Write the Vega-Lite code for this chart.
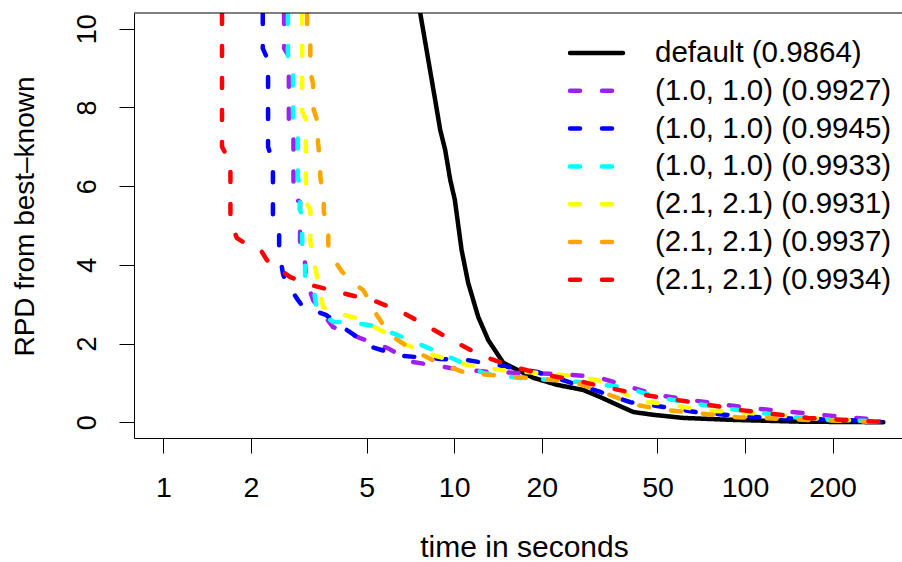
{
 "$schema": "https://vega.github.io/schema/vega-lite/v6.json",
 "width": 768, "height": 425,
 "autosize": {"type": "none"},
 "padding": {"left": 134, "top": 13, "right": 0, "bottom": 124},
 "background": "white",
 "config": {"view": {"stroke": null}, "font": "Liberation Sans"},
 "datasets": {
  "curves": [
   {"s":"default (0.9864)","i":0,"t":7.35,"r":11.5},{"s":"default (0.9864)","i":1,"t":7.64,"r":10.4},{"s":"default (0.9864)","i":2,"t":8.6,"r":8.19},{"s":"default (0.9864)","i":3,"t":8.95,"r":7.43},{"s":"default (0.9864)","i":4,"t":9.31,"r":6.92},{"s":"default (0.9864)","i":5,"t":9.69,"r":6.16},{"s":"default (0.9864)","i":6,"t":10.05,"r":5.65},{"s":"default (0.9864)","i":7,"t":10.6,"r":4.38},{"s":"default (0.9864)","i":8,"t":11.17,"r":3.54},{"s":"default (0.9864)","i":9,"t":12.09,"r":2.68},{"s":"default (0.9864)","i":10,"t":13.09,"r":2.09},{"s":"default (0.9864)","i":11,"t":14.75,"r":1.51},{"s":"default (0.9864)","i":12,"t":18.7,"r":1.13},{"s":"default (0.9864)","i":13,"t":22.6,"r":0.95},{"s":"default (0.9864)","i":14,"t":27.8,"r":0.82},{"s":"default (0.9864)","i":15,"t":31.8,"r":0.64},{"s":"default (0.9864)","i":16,"t":36.4,"r":0.44},{"s":"default (0.9864)","i":17,"t":41.3,"r":0.26},{"s":"default (0.9864)","i":18,"t":48.3,"r":0.19},{"s":"default (0.9864)","i":19,"t":61.3,"r":0.11},{"s":"default (0.9864)","i":20,"t":91.1,"r":0.06},{"s":"default (0.9864)","i":21,"t":155,"r":0.015},{"s":"default (0.9864)","i":22,"t":299,"r":0.0},

   {"s":"(1.0, 1.0) (0.9927)","i":0,"t":2.6,"r":12},{"s":"(1.0, 1.0) (0.9927)","i":1,"t":2.6,"r":9.5},{"s":"(1.0, 1.0) (0.9927)","i":2,"t":2.7,"r":9.3},{"s":"(1.0, 1.0) (0.9927)","i":3,"t":2.7,"r":7.5},{"s":"(1.0, 1.0) (0.9927)","i":4,"t":2.8,"r":7.3},{"s":"(1.0, 1.0) (0.9927)","i":5,"t":2.8,"r":5.7},{"s":"(1.0, 1.0) (0.9927)","i":6,"t":2.95,"r":5.6},{"s":"(1.0, 1.0) (0.9927)","i":7,"t":2.95,"r":4.46},{"s":"(1.0, 1.0) (0.9927)","i":8,"t":3.05,"r":4.3},{"s":"(1.0, 1.0) (0.9927)","i":9,"t":3.1,"r":3.6},{"s":"(1.0, 1.0) (0.9927)","i":10,"t":3.27,"r":3.11},{"s":"(1.0, 1.0) (0.9927)","i":11,"t":3.46,"r":2.85},{"s":"(1.0, 1.0) (0.9927)","i":12,"t":3.83,"r":2.42},{"s":"(1.0, 1.0) (0.9927)","i":13,"t":4.75,"r":2.14},{"s":"(1.0, 1.0) (0.9927)","i":14,"t":5.88,"r":1.89},{"s":"(1.0, 1.0) (0.9927)","i":15,"t":7.22,"r":1.53},{"s":"(1.0, 1.0) (0.9927)","i":16,"t":9.69,"r":1.38},{"s":"(1.0, 1.0) (0.9927)","i":17,"t":13.0,"r":1.28},{"s":"(1.0, 1.0) (0.9927)","i":18,"t":17.3,"r":1.25},{"s":"(1.0, 1.0) (0.9927)","i":19,"t":22.6,"r":1.23},{"s":"(1.0, 1.0) (0.9927)","i":20,"t":31.0,"r":1.15},{"s":"(1.0, 1.0) (0.9927)","i":21,"t":39.3,"r":0.92},{"s":"(1.0, 1.0) (0.9927)","i":22,"t":49.9,"r":0.69},{"s":"(1.0, 1.0) (0.9927)","i":23,"t":85.5,"r":0.44},{"s":"(1.0, 1.0) (0.9927)","i":24,"t":113,"r":0.34},{"s":"(1.0, 1.0) (0.9927)","i":25,"t":155,"r":0.24},{"s":"(1.0, 1.0) (0.9927)","i":26,"t":201,"r":0.16},{"s":"(1.0, 1.0) (0.9927)","i":27,"t":270,"r":0.08},{"s":"(1.0, 1.0) (0.9927)","i":28,"t":304,"r":0.03},

   {"s":"(1.0, 1.0) (0.9945)","i":0,"t":2.196,"r":12},{"s":"(1.0, 1.0) (0.9945)","i":1,"t":2.196,"r":9.5},{"s":"(1.0, 1.0) (0.9945)","i":2,"t":2.29,"r":9.2},{"s":"(1.0, 1.0) (0.9945)","i":3,"t":2.29,"r":7.0},{"s":"(1.0, 1.0) (0.9945)","i":4,"t":2.38,"r":6.6},{"s":"(1.0, 1.0) (0.9945)","i":5,"t":2.38,"r":5.27},{"s":"(1.0, 1.0) (0.9945)","i":6,"t":2.5,"r":4.8},{"s":"(1.0, 1.0) (0.9945)","i":7,"t":2.5,"r":4.33},{"s":"(1.0, 1.0) (0.9945)","i":8,"t":2.58,"r":3.76},{"s":"(1.0, 1.0) (0.9945)","i":9,"t":2.64,"r":3.56},{"s":"(1.0, 1.0) (0.9945)","i":10,"t":2.9,"r":3.11},{"s":"(1.0, 1.0) (0.9945)","i":11,"t":3.02,"r":2.93},{"s":"(1.0, 1.0) (0.9945)","i":12,"t":3.62,"r":2.73},{"s":"(1.0, 1.0) (0.9945)","i":13,"t":4.32,"r":2.32},{"s":"(1.0, 1.0) (0.9945)","i":14,"t":5.22,"r":1.91},{"s":"(1.0, 1.0) (0.9945)","i":15,"t":6.52,"r":1.69},{"s":"(1.0, 1.0) (0.9945)","i":16,"t":8.93,"r":1.61},{"s":"(1.0, 1.0) (0.9945)","i":17,"t":11.1,"r":1.58},{"s":"(1.0, 1.0) (0.9945)","i":18,"t":19.3,"r":1.28},{"s":"(1.0, 1.0) (0.9945)","i":19,"t":31.8,"r":0.77},{"s":"(1.0, 1.0) (0.9945)","i":20,"t":40.3,"r":0.51},{"s":"(1.0, 1.0) (0.9945)","i":21,"t":52.4,"r":0.39},{"s":"(1.0, 1.0) (0.9945)","i":22,"t":70.2,"r":0.24},{"s":"(1.0, 1.0) (0.9945)","i":23,"t":119,"r":0.11},{"s":"(1.0, 1.0) (0.9945)","i":24,"t":218,"r":0.06},{"s":"(1.0, 1.0) (0.9945)","i":25,"t":292,"r":0.01},

   {"s":"(1.0, 1.0) (0.9933)","i":0,"t":2.68,"r":12},{"s":"(1.0, 1.0) (0.9933)","i":1,"t":2.68,"r":9.0},{"s":"(1.0, 1.0) (0.9933)","i":2,"t":2.79,"r":8.9},{"s":"(1.0, 1.0) (0.9933)","i":3,"t":2.79,"r":7.6},{"s":"(1.0, 1.0) (0.9933)","i":4,"t":2.9,"r":7.3},{"s":"(1.0, 1.0) (0.9933)","i":5,"t":2.9,"r":6.2},{"s":"(1.0, 1.0) (0.9933)","i":6,"t":2.95,"r":6.0},{"s":"(1.0, 1.0) (0.9933)","i":7,"t":2.95,"r":5.4},{"s":"(1.0, 1.0) (0.9933)","i":8,"t":3.0,"r":5.2},{"s":"(1.0, 1.0) (0.9933)","i":9,"t":3.0,"r":4.5},{"s":"(1.0, 1.0) (0.9933)","i":10,"t":3.07,"r":4.2},{"s":"(1.0, 1.0) (0.9933)","i":11,"t":3.07,"r":3.62},{"s":"(1.0, 1.0) (0.9933)","i":12,"t":3.3,"r":3.3},{"s":"(1.0, 1.0) (0.9933)","i":13,"t":3.37,"r":2.86},{"s":"(1.0, 1.0) (0.9933)","i":14,"t":3.83,"r":2.55},{"s":"(1.0, 1.0) (0.9933)","i":15,"t":4.28,"r":2.55},{"s":"(1.0, 1.0) (0.9933)","i":16,"t":5.27,"r":2.45},{"s":"(1.0, 1.0) (0.9933)","i":17,"t":6.62,"r":2.17},{"s":"(1.0, 1.0) (0.9933)","i":18,"t":8.14,"r":1.89},{"s":"(1.0, 1.0) (0.9933)","i":19,"t":10.3,"r":1.56},{"s":"(1.0, 1.0) (0.9933)","i":20,"t":12.6,"r":1.25},{"s":"(1.0, 1.0) (0.9933)","i":21,"t":16.5,"r":1.13},{"s":"(1.0, 1.0) (0.9933)","i":22,"t":21.1,"r":1.08},{"s":"(1.0, 1.0) (0.9933)","i":23,"t":29.4,"r":1.0},{"s":"(1.0, 1.0) (0.9933)","i":24,"t":39.3,"r":0.87},{"s":"(1.0, 1.0) (0.9933)","i":25,"t":49.9,"r":0.64},{"s":"(1.0, 1.0) (0.9933)","i":26,"t":64.9,"r":0.49},{"s":"(1.0, 1.0) (0.9933)","i":27,"t":84.3,"r":0.36},{"s":"(1.0, 1.0) (0.9933)","i":28,"t":113,"r":0.24},{"s":"(1.0, 1.0) (0.9933)","i":29,"t":146,"r":0.13},{"s":"(1.0, 1.0) (0.9933)","i":30,"t":192,"r":0.06},{"s":"(1.0, 1.0) (0.9933)","i":31,"t":264,"r":0.03},{"s":"(1.0, 1.0) (0.9933)","i":32,"t":304,"r":0.01},

   {"s":"(2.1, 2.1) (0.9931)","i":0,"t":3.0,"r":12},{"s":"(2.1, 2.1) (0.9931)","i":1,"t":3.0,"r":7.9},{"s":"(2.1, 2.1) (0.9931)","i":2,"t":3.09,"r":7.7},{"s":"(2.1, 2.1) (0.9931)","i":3,"t":3.09,"r":5.6},{"s":"(2.1, 2.1) (0.9931)","i":4,"t":3.2,"r":5.4},{"s":"(2.1, 2.1) (0.9931)","i":5,"t":3.2,"r":4.6},{"s":"(2.1, 2.1) (0.9931)","i":6,"t":3.25,"r":4.33},{"s":"(2.1, 2.1) (0.9931)","i":7,"t":3.38,"r":3.67},{"s":"(2.1, 2.1) (0.9931)","i":8,"t":3.54,"r":2.93},{"s":"(2.1, 2.1) (0.9931)","i":9,"t":3.8,"r":2.8},{"s":"(2.1, 2.1) (0.9931)","i":10,"t":4.6,"r":2.65},{"s":"(2.1, 2.1) (0.9931)","i":11,"t":5.65,"r":2.32},{"s":"(2.1, 2.1) (0.9931)","i":12,"t":6.84,"r":1.97},{"s":"(2.1, 2.1) (0.9931)","i":13,"t":8.6,"r":1.69},{"s":"(2.1, 2.1) (0.9931)","i":14,"t":11.0,"r":1.46},{"s":"(2.1, 2.1) (0.9931)","i":15,"t":14.4,"r":1.33},{"s":"(2.1, 2.1) (0.9931)","i":16,"t":25.7,"r":1.18},{"s":"(2.1, 2.1) (0.9931)","i":17,"t":33.6,"r":1.02},{"s":"(2.1, 2.1) (0.9931)","i":18,"t":42.0,"r":0.55},{"s":"(2.1, 2.1) (0.9931)","i":19,"t":53.2,"r":0.47},{"s":"(2.1, 2.1) (0.9931)","i":20,"t":70.2,"r":0.31},{"s":"(2.1, 2.1) (0.9931)","i":21,"t":94.0,"r":0.26},{"s":"(2.1, 2.1) (0.9931)","i":22,"t":164,"r":0.11},{"s":"(2.1, 2.1) (0.9931)","i":23,"t":285,"r":0.01},

   {"s":"(2.1, 2.1) (0.9937)","i":0,"t":3.12,"r":12},{"s":"(2.1, 2.1) (0.9937)","i":1,"t":3.12,"r":10.0},{"s":"(2.1, 2.1) (0.9937)","i":2,"t":3.2,"r":9.8},{"s":"(2.1, 2.1) (0.9937)","i":3,"t":3.2,"r":8.9},{"s":"(2.1, 2.1) (0.9937)","i":4,"t":3.27,"r":8.6},{"s":"(2.1, 2.1) (0.9937)","i":5,"t":3.27,"r":8.0},{"s":"(2.1, 2.1) (0.9937)","i":6,"t":3.4,"r":7.6},{"s":"(2.1, 2.1) (0.9937)","i":7,"t":3.4,"r":7.1},{"s":"(2.1, 2.1) (0.9937)","i":8,"t":3.46,"r":6.6},{"s":"(2.1, 2.1) (0.9937)","i":9,"t":3.46,"r":6.25},{"s":"(2.1, 2.1) (0.9937)","i":10,"t":3.56,"r":5.65},{"s":"(2.1, 2.1) (0.9937)","i":11,"t":3.56,"r":5.35},{"s":"(2.1, 2.1) (0.9937)","i":12,"t":3.69,"r":4.9},{"s":"(2.1, 2.1) (0.9937)","i":13,"t":3.69,"r":4.4},{"s":"(2.1, 2.1) (0.9937)","i":14,"t":3.9,"r":4.08},{"s":"(2.1, 2.1) (0.9937)","i":15,"t":4.12,"r":3.82},{"s":"(2.1, 2.1) (0.9937)","i":16,"t":4.49,"r":3.54},{"s":"(2.1, 2.1) (0.9937)","i":17,"t":4.86,"r":3.36},{"s":"(2.1, 2.1) (0.9937)","i":18,"t":5.22,"r":2.98},{"s":"(2.1, 2.1) (0.9937)","i":19,"t":5.42,"r":2.72},{"s":"(2.1, 2.1) (0.9937)","i":20,"t":6.02,"r":2.22},{"s":"(2.1, 2.1) (0.9937)","i":21,"t":7.17,"r":1.84},{"s":"(2.1, 2.1) (0.9937)","i":22,"t":8.81,"r":1.51},{"s":"(2.1, 2.1) (0.9937)","i":23,"t":11.0,"r":1.25},{"s":"(2.1, 2.1) (0.9937)","i":24,"t":14.7,"r":1.18},{"s":"(2.1, 2.1) (0.9937)","i":25,"t":25.7,"r":1.03},{"s":"(2.1, 2.1) (0.9937)","i":26,"t":33.6,"r":0.72},{"s":"(2.1, 2.1) (0.9937)","i":27,"t":42.0,"r":0.44},{"s":"(2.1, 2.1) (0.9937)","i":28,"t":54.1,"r":0.31},{"s":"(2.1, 2.1) (0.9937)","i":29,"t":94,"r":0.13},{"s":"(2.1, 2.1) (0.9937)","i":30,"t":165,"r":0.06},{"s":"(2.1, 2.1) (0.9937)","i":31,"t":292,"r":0.01},

   {"s":"(2.1, 2.1) (0.9934)","i":0,"t":1.59,"r":12},{"s":"(2.1, 2.1) (0.9934)","i":1,"t":1.59,"r":7.0},{"s":"(2.1, 2.1) (0.9934)","i":2,"t":1.7,"r":6.6},{"s":"(2.1, 2.1) (0.9934)","i":3,"t":1.7,"r":5.1},{"s":"(2.1, 2.1) (0.9934)","i":4,"t":1.79,"r":4.68},{"s":"(2.1, 2.1) (0.9934)","i":5,"t":1.91,"r":4.55},{"s":"(2.1, 2.1) (0.9934)","i":6,"t":2.18,"r":4.33},{"s":"(2.1, 2.1) (0.9934)","i":7,"t":2.27,"r":4.12},{"s":"(2.1, 2.1) (0.9934)","i":8,"t":2.58,"r":3.82},{"s":"(2.1, 2.1) (0.9934)","i":9,"t":2.73,"r":3.69},{"s":"(2.1, 2.1) (0.9934)","i":10,"t":3.2,"r":3.49},{"s":"(2.1, 2.1) (0.9934)","i":11,"t":4.25,"r":3.26},{"s":"(2.1, 2.1) (0.9934)","i":12,"t":5.43,"r":3.06},{"s":"(2.1, 2.1) (0.9934)","i":13,"t":6.68,"r":2.78},{"s":"(2.1, 2.1) (0.9934)","i":14,"t":8.27,"r":2.4},{"s":"(2.1, 2.1) (0.9934)","i":15,"t":10.08,"r":2.04},{"s":"(2.1, 2.1) (0.9934)","i":16,"t":12.29,"r":1.71},{"s":"(2.1, 2.1) (0.9934)","i":17,"t":15.58,"r":1.43},{"s":"(2.1, 2.1) (0.9934)","i":18,"t":19.8,"r":1.23},{"s":"(2.1, 2.1) (0.9934)","i":19,"t":25.7,"r":1.08},{"s":"(2.1, 2.1) (0.9934)","i":20,"t":32.6,"r":0.9},{"s":"(2.1, 2.1) (0.9934)","i":21,"t":43.0,"r":0.72},{"s":"(2.1, 2.1) (0.9934)","i":22,"t":55.4,"r":0.59},{"s":"(2.1, 2.1) (0.9934)","i":23,"t":71.4,"r":0.47},{"s":"(2.1, 2.1) (0.9934)","i":24,"t":96.4,"r":0.31},{"s":"(2.1, 2.1) (0.9934)","i":25,"t":125,"r":0.21},{"s":"(2.1, 2.1) (0.9934)","i":26,"t":165,"r":0.11},{"s":"(2.1, 2.1) (0.9934)","i":27,"t":221,"r":0.06},{"s":"(2.1, 2.1) (0.9934)","i":28,"t":292,"r":0.01}
  ],
  "frame": [{"top": 10.4}]
 },
 "layer": [
  {
   "data": {"name": "curves"},
   "mark": {"type": "line", "clip": true, "strokeWidth": 4.5, "strokeCap": "round", "strokeJoin": "round"},
   "encoding": {
    "x": {"field": "t", "type": "quantitative",
     "scale": {"type": "log", "domain": [0.7922, 346.6], "nice": false},
     "axis": {"values": [1, 2, 5, 10, 20, 50, 100, 200], "format": "d", "grid": false,
      "domainColor": "black", "tickColor": "black", "tickSize": 15, "labelFontSize": 28.5, "labelColor": "black",
      "labelPadding": 20, "labelFlush": false, "labelOverlap": false,
      "title": "time in seconds", "titleFontSize": 30, "titleFontWeight": "normal", "titleColor": "black",
      "titleX": 390, "titleY": 118, "titleBaseline": "alphabetic", "titleAlign": "center"}},
    "y": {"field": "r", "type": "quantitative",
     "scale": {"domain": [-0.4, 10.4], "nice": false, "zero": false},
     "axis": {"values": [0, 2, 4, 6, 8, 10], "grid": false,
      "domainColor": "black", "tickColor": "black", "tickSize": 15, "labelFontSize": 27, "labelColor": "black",
      "labelAngle": 270, "labelAlign": "center", "labelBaseline": "alphabetic", "labelPadding": 24,
      "labelFlush": false, "labelOverlap": false,
      "title": "RPD from best–known", "titleFontSize": 28, "titleFontWeight": "normal", "titleColor": "black",
      "titleAngle": 270, "titleX": -101, "titleY": 203, "titleAlign": "center", "titleBaseline": "alphabetic"}},
    "color": {"field": "s", "type": "nominal",
     "scale": {"domain": ["default (0.9864)", "(1.0, 1.0) (0.9927)", "(1.0, 1.0) (0.9945)", "(1.0, 1.0) (0.9933)", "(2.1, 2.1) (0.9931)", "(2.1, 2.1) (0.9937)", "(2.1, 2.1) (0.9934)"],
      "range": ["#000000", "#A020F0", "#0000FF", "#00FFFF", "#FFFF00", "#FFA500", "#FF0000"]},
     "legend": {"title": null, "orient": "none", "legendX": 433.5, "legendY": 26, "symbolType": "stroke", "symbolSize": 2809,
      "symbolStrokeWidth": 4.5, "clipHeight": 28, "rowPadding": 7.8, "labelFontSize": 29.5, "labelOffset": 29.5,
      "labelColor": "black", "labelLimit": 0, "padding": 0,
      "encode": {"symbols": {"update": {"strokeCap": {"value": "round"}}}}}},
    "strokeDash": {"field": "s", "type": "nominal",
     "scale": {"domain": ["default (0.9864)", "(1.0, 1.0) (0.9927)", "(1.0, 1.0) (0.9945)", "(1.0, 1.0) (0.9933)", "(2.1, 2.1) (0.9931)", "(2.1, 2.1) (0.9937)", "(2.1, 2.1) (0.9934)"],
      "range": [[1, 0], [10, 22], [10, 22], [10, 22], [10, 22], [10, 22], [10, 22]]},
     "legend": {"title": null, "orient": "none", "legendX": 433.5, "legendY": 26, "symbolType": "stroke", "symbolSize": 2809,
      "symbolStrokeWidth": 4.5, "clipHeight": 28, "rowPadding": 7.8, "labelFontSize": 29.5, "labelOffset": 29.5,
      "labelColor": "black", "labelLimit": 0, "padding": 0,
      "encode": {"symbols": {"update": {"strokeCap": {"value": "round"}}}}}},
    "order": {"field": "i", "type": "quantitative"}
   }
  },
  {
   "data": {"name": "frame"},
   "mark": {"type": "rule", "color": "black", "strokeWidth": 1},
   "encoding": {"y": {"field": "top", "type": "quantitative"}}
  }
 ]
}
